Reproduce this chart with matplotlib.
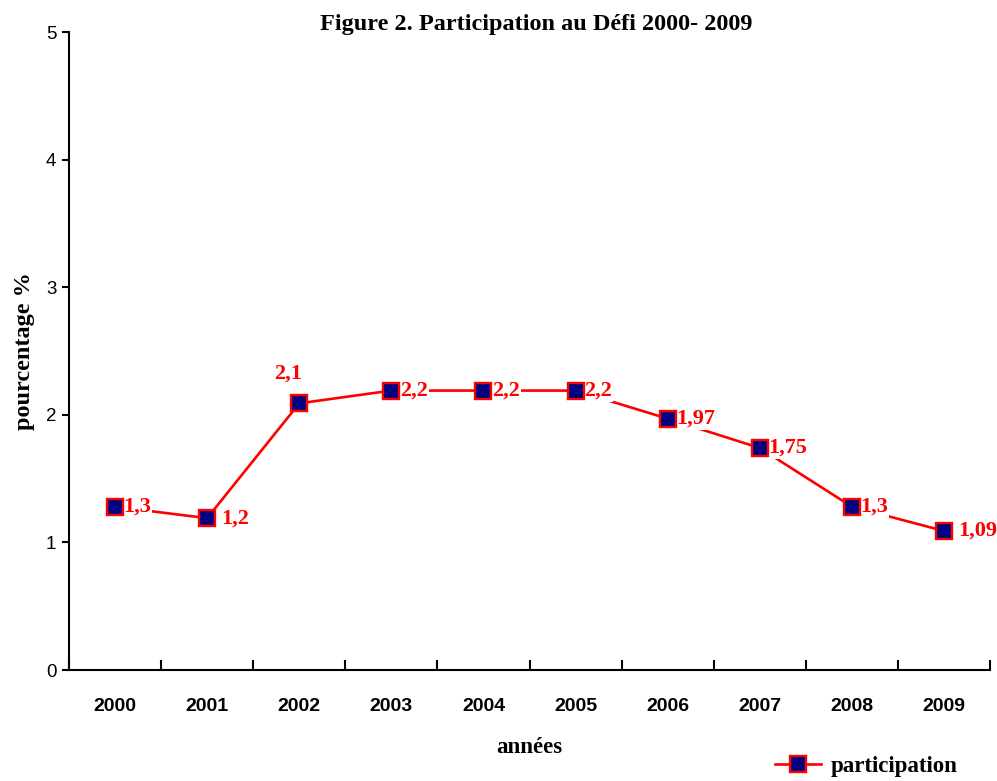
import numpy as np
import matplotlib.pyplot as plt
from matplotlib.ticker import FixedLocator
from matplotlib.lines import Line2D

years = ['2000', '2001', '2002', '2003', '2004', '2005', '2006', '2007', '2008', '2009']
participation = [1.28, 1.19, 2.09, 2.19, 2.19, 2.19, 1.97, 1.74, 1.28, 1.09]
value_labels = ['1,3', '1,2', '2,1', '2,2', '2,2', '2,2', '1,97', '1,75', '1,3', '1,09']

red = '#FF0000'
navy = '#000080'
serif = 'Liberation Serif'
sans = 'Liberation Sans'

fig = plt.figure(figsize=(9.97, 7.81), dpi=100)
ax = fig.add_axes([0.0692, 0.1421, 0.9238, 0.8169])

x = np.arange(len(years))
ax.plot(x, participation, color=red, lw=1.9, zorder=2)
ax.plot(x, participation, ls='none', marker='s', ms=11, mfc=navy, mec=red,
        mew=1.7, zorder=4)

# data labels with white box, they cut the line like in the original
for i, (v, lab) in enumerate(zip(participation, value_labels)):
    if i == 2:
        off, ha, va = (-8, 14), 'center', 'bottom'
    elif i in (1, 9):
        off, ha, va = (10, 0), 'left', 'center'
    else:
        off, ha, va = (6, 0), 'left', 'center'
    ax.annotate(lab, (i, v), xytext=off, textcoords='offset points',
                ha=ha, va=va, color=red, fontsize=16, fontweight='bold',
                family=serif, zorder=3,
                bbox=dict(boxstyle='square,pad=0.05', fc='white', ec='none'))

ax.set_xlim(-0.5, 9.5)
ax.set_ylim(0, 5)
ax.set_yticks(range(0, 6))
ax.set_xticks(x)
ax.set_xticklabels(years, fontsize=14, fontweight='bold', family=sans)
ax.xaxis.set_minor_locator(FixedLocator(np.arange(-0.5, 10, 1)))
ax.tick_params(axis='x', which='major', length=0, pad=20)
ax.tick_params(axis='x', which='minor', direction='in', length=7, width=1.5)
ax.tick_params(axis='y', direction='out', length=5, width=1.5, labelsize=13.5, pad=4)
for t in ax.get_yticklabels():
    t.set_family(sans)

for s in ['top', 'right']:
    ax.spines[s].set_visible(False)
for s in ['left', 'bottom']:
    ax.spines[s].set_linewidth(1.5)

ax.set_ylabel('pourcentage %', fontsize=17.5, fontweight='bold', family=serif, labelpad=8)
ax.set_xlabel('années', fontsize=16.5, fontweight='bold', family=serif, labelpad=16)
fig.text(0.538, 0.968, 'Figure 2. Participation au Défi 2000- 2009', ha='center', va='center',
         fontsize=17.5, fontweight='bold', family=serif)

handle = Line2D([], [], color=red, lw=1.9, marker='s', ms=11, mfc=navy, mec=red, mew=1.7)
fig.legend([handle], ['participation'], loc='center left', bbox_to_anchor=(0.766, 0.018),
           frameon=False, prop={'family': serif, 'weight': 'bold', 'size': 16.5},
           handlelength=2.0, handletextpad=0.4, borderpad=0)

fig.savefig('out.png', dpi=100, facecolor='white')
